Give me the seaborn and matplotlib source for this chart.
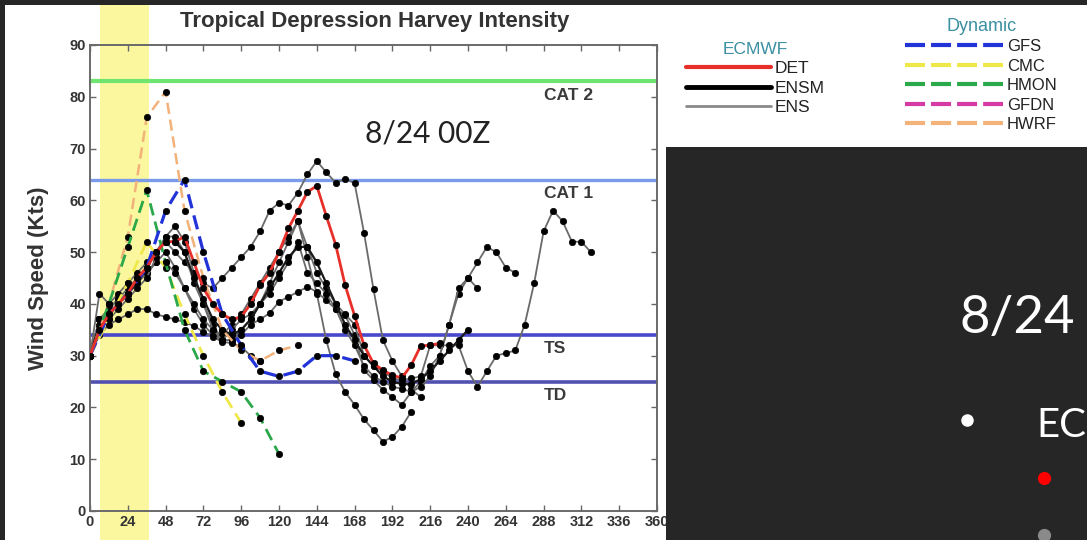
import numpy as np
import matplotlib
matplotlib.use("Agg")
import matplotlib.pyplot as plt
import seaborn as sns
from matplotlib.lines import Line2D
from matplotlib.patches import Rectangle

# ---------------- data ----------------
TITLE = "Tropical Depression Harvey Intensity"
Y_LABEL = "Wind Speed (Kts)"
X_TICKS = [0, 24, 48, 72, 96, 120, 144, 168, 192, 216, 240, 264, 288, 312, 336, 360]
Y_TICKS = [0, 10, 20, 30, 40, 50, 60, 70, 80, 90]
RUN_LABEL = "8/24 00Z"
HIGHLIGHT_HOURS = [6.3, 37.5]

THRESH_NAMES = ["CAT 2", "CAT 1", "TS", "TD"]
THRESH_VALUES = [83, 64, 34, 25]

ECMWF_STEP = 6   # hours between ECMWF points
DYN_STEP = 12    # hours between dynamic-model points

DET = [30, 35, 38, 40, 42, 45, 47, 50, 52, 52, 53, 48, 43, 40, 38, 37, 37.5, 40, 43.6,
       46, 50, 54.6, 58, 61.6, 62.8, 57, 51.4, 43.6, 37.7, 32, 28.5, 27.2, 26.2, 25.7,
       28.2, 31.9, 32, 32.4]
ENSM = [30, 36, 38, 40, 42, 44, 47, 50, 52, 52, 50, 45, 41, 37, 35, 34, 35, 37, 40, 43,
        46, 49, 51, 51, 48, 44, 40, 36, 33, 30, 28, 26, 25, 24.5, 24.5, 25.5, 27, 29, 31,
        33, 35]
ENS_A = [30, 42, 40, 42, 44, 46, 48, 50, 52, 50, 48, 46, 44, 43, 45, 47, 49, 51, 54, 58,
         59.5, 59, 61.5, 65, 67.6, 65.4, 63.4, 64.2, 63.3, 53.7, 42.8, 33, 29, 26, 23.5, 22]
ENS_B = [30, 37, 39, 41, 43, 45, 47, 50, 53, 53, 50, 44, 40, 36, 33, 33, 35, 37, 40, 44,
         48, 52, 56, 49, 42, 33, 26.4, 23, 20.5, 17.7, 15.6, 13.4, 14.3, 16.3, 19.2]
ENS_C = [30, 37, 38, 40, 42, 44, 46, 48, 50, 47, 43, 39, 36, 34, 33, 33, 34, 36, 37, 38.2,
         40.4, 41.4, 42.3, 43.3, 42.3, 40.7, 39, 37.8, 34, 27.2, 25.3, 23.4, 22, 20.5, 23,
         25, 28, 30, 36, 42, 45, 48, 51, 50, 47, 46]
ENS_D = [30, 37, 39, 41, 42, 44, 46, 48, 48, 46, 43, 40, 37, 35, 34, 36, 38, 41, 44, 47,
         50, 53, 56, 51, 46, 43, 40, 38, 36, 30, 28, 27, 25.6, 25.3, 25.6, 26, 32, 32, 32,
         32, 27, 24, 27, 30, 30.5, 31, 36, 44, 54, 58, 56, 52, 52, 50]
ENS_E = [30, 37, 37, 39, 41, 43, 45, 49, 53, 55, 52, 46, 40, 35, 33, 35, 37, 38, 40, 42,
         45, 48, 52, 46, 44, 42, 39, 35, 32, 28, 26, 25, 24, 23.6, 23, 24, 26, 30, 36, 43,
         45, 43]
ENS_F = [30, 34, 36, 37, 38, 39, 39, 38, 37.5, 37, 36.5, 35.7, 34.6, 33.6, 32.7, 32.4,
         31.7, 30, 29]

GFS = [30, 38, 42, 47, 58, 64, 50, 38, 32, 27, 26, 27, 30, 30, 29]
CMC = [30, 37, 44, 52, 47, 38, 30, 23, 17]
HMON = [30, 40, 51, 62, 48, 35, 27, 25, 23, 18, 11]
HWRF = [30, 40, 53, 76, 81, 58, 45, 35, 31, 29, 31, 32]

ECMWF_NAMES = ["DET", "ENSM", "ENS"]
DYN_NAMES = ["GFS", "CMC", "HMON", "GFDN", "HWRF"]

# ---------------- style ----------------
sns.set_style("ticks")
plt.rcParams["font.family"] = ["Liberation Sans", "DejaVu Sans"]

W, H = 1087, 540
DARK = "#262626"
fig = plt.figure(figsize=(W / 100, H / 100), dpi=100, facecolor=DARK)

# white slide area (chart + legend image), drawn beneath the axes
fig.patches.append(Rectangle((5 / W, 0), (W - 5) / W, (H - 5) / H,
                             transform=fig.transFigure, facecolor="white",
                             edgecolor="none", zorder=-5))

ax = fig.add_axes([90 / W, 1 - 511 / H, 567 / W, 466 / H])
ax.set_facecolor("white")

C_DET = "#e8302a"
C_ENS = "#6a6a6a"
C_GFS = "#2233d8"
C_CMC = "#efe84a"
C_HMON = "#2aa84a"
C_GFDN = "#d63aa6"
C_HWRF = "#f2b27a"
DASH = (0, (4.5, 2.3))


def draw(vals, step, color, lw, ls="-", z=3):
    hrs = np.arange(len(vals)) * step
    sns.lineplot(x=hrs, y=vals, ax=ax, color=color, lw=lw, linestyle=ls,
                 marker="o", markersize=4.6, markerfacecolor="black",
                 markeredgecolor="black", markeredgewidth=0.5, zorder=z,
                 errorbar=None, estimator=None, legend=False)


# highlight band
ax.axvspan(HIGHLIGHT_HOURS[0], HIGHLIGHT_HOURS[1], ymin=(511 - 540) / 466,
           ymax=(511 - 5) / 466, facecolor="#fbf79e", edgecolor="none",
           zorder=0.5, clip_on=False)

# threshold lines
th_colors = ["#6fe46f", "#7b9bea", "#4848cc", "#5050b0"]
th_lw = [3.0, 2.4, 2.6, 2.6]
for name, val, c, lw in zip(THRESH_NAMES, THRESH_VALUES, th_colors, th_lw):
    ax.axhline(val, color=c, lw=lw, zorder=1)
    ax.text(288, val - 2.7, name, fontsize=12.5, fontweight="bold", color="#3a3a3a",
            ha="left", va="center", zorder=2)

# ECMWF ensemble members
for member in [ENS_F, ENS_A, ENS_B, ENS_C, ENS_D, ENS_E]:
    draw(member, ECMWF_STEP, C_ENS, 1.3, z=3)
draw(ENSM, ECMWF_STEP, "#1a1a1a", 1.6, z=3.5)

# dynamic models
draw(HWRF, DYN_STEP, C_HWRF, 1.8, DASH, z=4)
draw(CMC, DYN_STEP, C_CMC, 2.0, DASH, z=4)
draw(HMON, DYN_STEP, C_HMON, 2.0, DASH, z=4.1)
draw(GFS, DYN_STEP, C_GFS, 2.3, DASH, z=4.2)

# deterministic
draw(DET, ECMWF_STEP, C_DET, 2.0, z=5)

ax.set_xlim(0, 360)
ax.set_ylim(0, 90)
ax.set_xticks(X_TICKS)
ax.set_yticks(Y_TICKS)
ax.set_xticklabels([str(t) for t in X_TICKS], fontsize=10.5, fontweight="bold", color="#333")
ax.set_yticklabels([str(t) for t in Y_TICKS], fontsize=10.5, fontweight="bold", color="#333")
ax.tick_params(direction="in", length=4, width=1, color="#666", top=True, right=True, pad=3)
for s in ax.spines.values():
    s.set_color("#6a6a6a")
    s.set_linewidth(1.4)
ax.set_xlabel("")
ax.set_ylabel(Y_LABEL, fontsize=16, fontweight="bold", color="#333")
ax.yaxis.set_label_coords(-0.072, 0.5)
fig.text(375 / W, 1 - 22 / H, TITLE, fontsize=16, fontweight="bold", color="#333",
         ha="center", va="center")
fig.text(428 / W, 1 - 134 / H, RUN_LABEL, fontsize=21.5, family=["Lato", "DejaVu Sans"],
         color="#222", ha="center", va="center")

# ---------------- legends ----------------
ecm_handles = [Line2D([], [], color=C_DET, lw=3),
               Line2D([], [], color="black", lw=3.5),
               Line2D([], [], color="#8a8a8a", lw=2)]
leg1 = fig.legend(ecm_handles, ECMWF_NAMES, loc="upper left",
                  bbox_to_anchor=(686 / W, 1 - 42 / H), frameon=False, fontsize=12.5,
                  title="ECMWF", title_fontsize=12.5, handlelength=4.9,
                  handletextpad=0.2, labelspacing=0.24, borderpad=0, borderaxespad=0)
leg1.get_title().set_color("#3a8fa0")
leg1._legend_box.sep = 3
for t in leg1.get_texts():
    t.set_color("#222")

dyn_colors = [C_GFS, C_CMC, C_HMON, C_GFDN, C_HWRF]
dyn_handles = [Line2D([], [], color=c, lw=3, linestyle=(0, (4.8, 1.45))) for c in dyn_colors]
leg2 = fig.legend(dyn_handles, DYN_NAMES, loc="upper left",
                  bbox_to_anchor=(905 / W, 1 - 18 / H), frameon=False, fontsize=12,
                  title="Dynamic", title_fontsize=13, handlelength=5.85,
                  handletextpad=0.25, labelspacing=0.27, borderpad=0, borderaxespad=0)
leg2.get_title().set_color("#3a8fa0")
leg2._legend_box.sep = 3
for t in leg2.get_texts():
    t.set_color("#222")

# ---------------- dark slide box ----------------
fig.add_artist(Rectangle((666 / W, 0), (W - 666) / W, (H - 147) / H,
                         transform=fig.transFigure, facecolor=DARK,
                         edgecolor="none", zorder=5))
fig.text(960 / W, 1 - 333 / H, "8/24", fontsize=38, family=["Lato", "DejaVu Sans"],
         color="white", ha="left", va="baseline", zorder=6)
fig.text(1036 / W, 1 - 437 / H, "EC", fontsize=29, family=["Lato", "DejaVu Sans"],
         color="white", ha="left", va="baseline", zorder=6)
fig.add_artist(Line2D([967 / W], [1 - 420 / H], marker="o", ms=8, color="white",
                      transform=fig.transFigure, zorder=6))
fig.add_artist(Line2D([1044 / W], [1 - 478 / H], marker="o", ms=8.5, color="#ff0000",
                      transform=fig.transFigure, zorder=6))
fig.add_artist(Line2D([1044 / W], [1 - 535 / H], marker="o", ms=8.5, color="#8a8a8a",
                      transform=fig.transFigure, zorder=6))

fig.savefig("out.png", dpi=100, facecolor=DARK)
